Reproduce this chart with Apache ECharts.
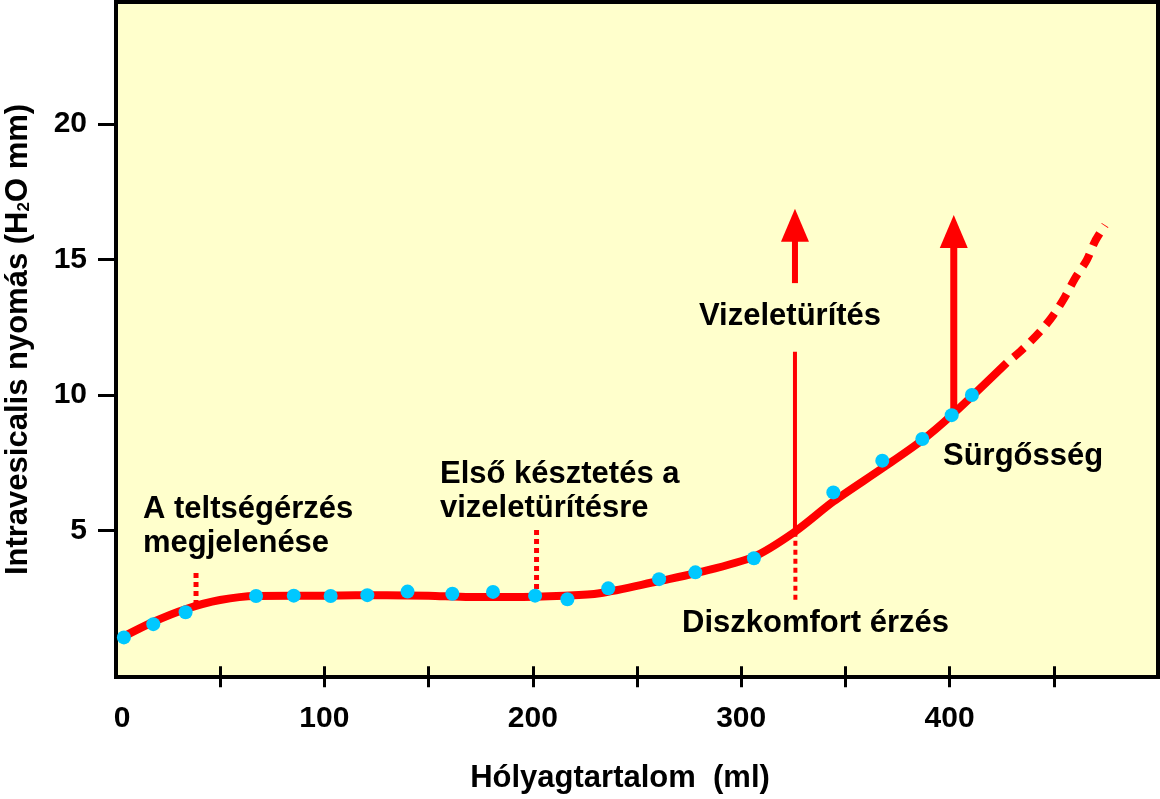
<!DOCTYPE html>
<html>
<head>
<meta charset="utf-8">
<script src="https://cdn.jsdelivr.net/npm/echarts@6/dist/echarts.min.js"></script>
<style>
html,body{margin:0;padding:0;background:#fff;}
#main{width:1160px;height:799px;}
</style>
</head>
<body>
<div id="main"></div>
<script>
// ---- data ----
const xTickValues = [50, 100, 150, 200, 250, 300, 350, 400, 450];
const xLabelValues = [0, 100, 200, 300, 400];
const yTickValues = [5, 10, 15, 20];

// measured points (blue dots)
const dotX = [3.8, 17.9, 33.4, 67.2, 85.3, 103.0, 120.6, 139.9, 161.4, 180.9, 201.1, 216.6, 236.2, 260.6, 278.0, 306.1, 344.2, 367.7, 386.9, 401.0, 410.7];
const dotY = [1.06, 1.55, 1.99, 2.59, 2.60, 2.59, 2.62, 2.75, 2.67, 2.74, 2.60, 2.47, 2.87, 3.21, 3.46, 3.98, 6.41, 7.58, 8.38, 9.26, 10.0];

// fitted pressure curve (solid part)
const curveX = [3.8, 17.8, 33.6, 49.9, 67.2, 100, 130, 150, 170, 190, 215, 232, 260.6, 277.8, 306.1, 325.8, 344.2, 367.7, 386.9, 401.0, 427.4];
const curveY = [1.10, 1.63, 2.11, 2.44, 2.59, 2.60, 2.62, 2.60, 2.55, 2.55, 2.60, 2.69, 3.14, 3.42, 4.04, 4.96, 6.07, 7.30, 8.34, 9.26, 11.19];

// extrapolated (dashed) part
const dashX = [427.4, 433.8, 443.4, 449.8, 455.4, 460.2, 465.8, 469.7, 474.6];
const dashY = [11.19, 11.60, 12.34, 12.95, 13.63, 14.31, 14.98, 15.66, 16.27];

// arrows: x position, start on curve, head centre
const arrowX = [325.8, 402.0];
const arrowFrom = [4.96, 9.30];
const arrowHead = [16.26, 16.03];
const arrowGap = [11.6, 14.13]; // gap in first arrow for its label

// dotted markers: x, top, bottom
const markerX = [38.4, 201.8, 326.0];
const markerTop = [3.44, 5.02, 4.96];
const markerBottom = [2.30, 2.72, 2.44];

// labels
const noteTexts = ['A teltségérzés\nmegjelenése', 'Első késztetés a\nvizeletürítésre', 'Vizeletürítés', 'Sürgősség', 'Diszkomfort érzés'];

// ---- chart ----
const FONT = '"Liberation Sans", Arial, Helvetica, sans-serif';
const RED = '#FF0000';
const chart = echarts.init(document.getElementById('main'), null, {renderer: 'canvas'});

function pairs(xs, ys) { return xs.map((x, i) => [x, ys[i]]); }

const series = [];
series.push({
  type: 'line', data: pairs(curveX, curveY), smooth: 0.3,
  symbol: 'none', lineStyle: {color: RED, width: 8, cap: 'butt'}, z: 3, silent: true
});
series.push({
  type: 'line', data: pairs(dashX, dashY), smooth: 0.3,
  symbol: 'none', lineStyle: {color: RED, width: 8, type: [14, 9], dashOffset: 14, cap: 'butt'}, z: 3, silent: true
});
// markers
markerX.forEach((x, i) => {
  series.push({
    type: 'line', data: [[x, markerTop[i]], [x, markerBottom[i]]], symbol: 'none',
    lineStyle: {color: RED, width: i === 2 ? 4 : 5, type: [5, 4], cap: 'butt'}, z: 2, silent: true
  });
});
// arrow 1: lower shaft, upper shaft
series.push({
  type: 'line', data: [[arrowX[0], arrowFrom[0]], [arrowX[0], arrowGap[0]]], symbol: 'none',
  lineStyle: {color: RED, width: 4}, z: 2, silent: true
});
series.push({
  type: 'line', data: [[arrowX[0], arrowGap[1]], [arrowX[0], arrowHead[0]]], symbol: 'none',
  lineStyle: {color: RED, width: 6}, z: 2, silent: true
});
// arrow 2 shaft
series.push({
  type: 'line', data: [[arrowX[1], arrowFrom[1]], [arrowX[1], arrowHead[1]]], symbol: 'none',
  lineStyle: {color: RED, width: 7}, z: 2, silent: true
});
// arrow heads
series.push({
  type: 'scatter', data: pairs(arrowX, arrowHead), symbol: 'triangle', symbolSize: [28, 33],
  itemStyle: {color: RED, opacity: 1}, z: 4, silent: true
});
// dots
series.push({
  type: 'scatter', data: pairs(dotX, dotY), symbol: 'circle', symbolSize: 14,
  itemStyle: {color: '#00C8FF', opacity: 1}, z: 5, silent: true
});

const noteStyle = {font: 'bold 31px ' + FONT, fill: '#000', lineHeight: 34, textVerticalAlign: 'top'};
const notePos = [[143, 492], [440, 457], [699, 299], [943, 439], [682, 606]];

chart.setOption({
  animation: false,
  backgroundColor: '#fff',
  grid: {left: 116, right: 2, top: 2, bottom: 122, show: true, backgroundColor: '#FFFFCC', borderColor: '#000', borderWidth: 4, outerBoundsMode: 'none', containLabel: false},
  xAxis: {
    type: 'value', min: 0, max: 500,
    name: 'Hólyagtartalom  (ml)', nameLocation: 'middle', nameGap: 86,
    nameTextStyle: {fontFamily: FONT, fontWeight: 'bold', fontSize: 31, color: '#000', padding: [0, 34, 0, 0]},
    axisLine: {show: false},
    axisTick: {show: true, length: 21, lineStyle: {color: '#000', width: 3}, customValues: xTickValues},
    axisLabel: {
      show: true, margin: 27, fontFamily: FONT, fontWeight: 'bold', fontSize: 30, color: '#000', customValues: xLabelValues,
      formatter: v => v === 0 ? '{z|0}' : String(v),
      rich: {z: {fontFamily: FONT, fontWeight: 'bold', fontSize: 30, color: '#000', padding: [0, 0, 0, 12]}}
    },
    splitLine: {show: false}
  },
  yAxis: {
    type: 'value', min: -0.4, max: 24.5,
    name: '{a|Intravesicalis nyomás (H}{s|2}{a|O mm)}', nameLocation: 'middle', nameGap: 82, nameRotate: 90,
    nameTextStyle: {
      color: '#000',
      rich: {
        a: {fontFamily: FONT, fontWeight: 'bold', fontSize: 31, color: '#000'},
        s: {fontFamily: FONT, fontWeight: 'bold', fontSize: 17, color: '#000', padding: [12, 0, 0, 0]}
      }
    },
    axisLine: {show: false},
    axisTick: {show: true, length: 18, lineStyle: {color: '#000', width: 3}, customValues: yTickValues},
    axisLabel: {show: true, margin: 29, fontFamily: FONT, fontWeight: 'bold', fontSize: 30, color: '#000', customValues: yTickValues},
    splitLine: {show: false}
  },
  series: series,
  graphic: noteTexts.map((t, i) => ({
    type: 'text', left: notePos[i][0], top: notePos[i][1], z: 10, silent: true,
    style: Object.assign({text: t}, noteStyle)
  }))
});
</script>
</body>
</html>
